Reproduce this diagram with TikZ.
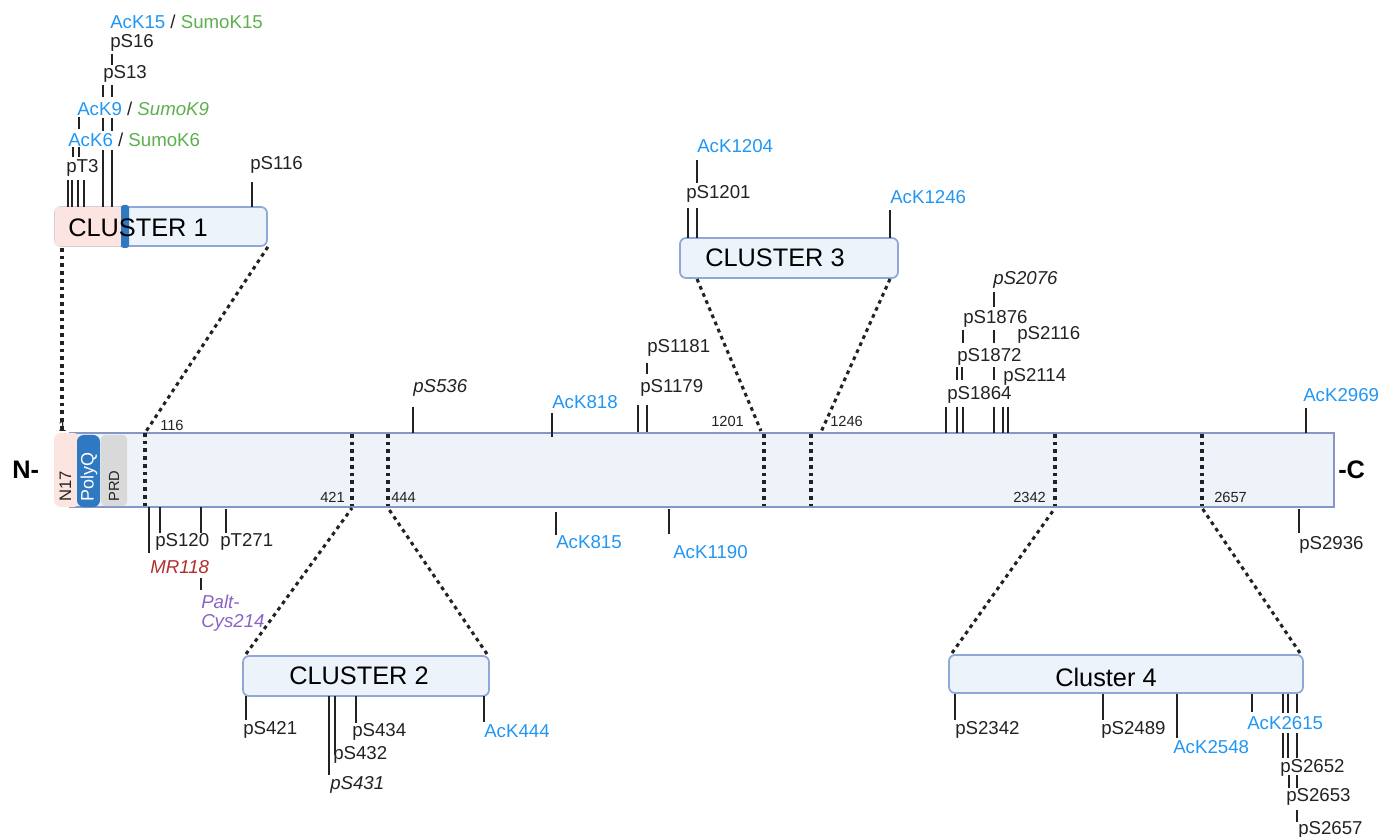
\documentclass[tikz,border=0pt]{standalone}
\usepackage{fontspec}
\setmainfont{Liberation Sans}
\definecolor{acblue}{HTML}{2196F3}
\definecolor{sumogreen}{HTML}{5DB04D}
\definecolor{mrred}{HTML}{B22F2F}
\definecolor{paltpurple}{HTML}{8A63C4}
\definecolor{boxfill}{HTML}{EDF3FB}
\definecolor{boxdraw}{HTML}{8FA8D8}
\definecolor{barfill}{HTML}{EEF3FA}
\definecolor{bardraw}{HTML}{8597C7}
\definecolor{nseventeen}{HTML}{FCE4E0}
\definecolor{polyqblue}{HTML}{2F78C2}
\definecolor{prdgray}{HTML}{D9D9D9}
\definecolor{txt}{HTML}{222222}
\newcommand{\acc}[1]{\textcolor{acblue}{#1}}
\newcommand{\sumo}[1]{\textcolor{sumogreen}{#1}}
\tikzset{
  tk/.style={line width=2.1pt, draw=txt},
  dline/.style={line width=2.3pt, dash pattern=on 2.8pt off 3pt, draw=txt},
  lbl/.style={anchor=west, inner sep=0pt, font=\fontsize{14}{16}\selectfont, text=txt},
  aclbl/.style={lbl, text=acblue},
  num/.style={anchor=west, inner sep=0pt, font=\fontsize{11}{12}\selectfont, text=txt},
  ttl/.style={anchor=west, inner sep=0pt, font=\fontsize{19}{21}\selectfont, text=black},
  cbox/.style={draw=boxdraw, fill=boxfill, rounded corners=4.5pt, line width=1.3pt, inner sep=0pt},
  ends/.style={anchor=west, inner sep=0pt, font=\fontsize{19}{21}\selectfont\bfseries, text=black},
  dom/.style={rotate=90, anchor=west, inner sep=0pt, font=\fontsize{11}{12}\selectfont},
}
\begin{document}
\begin{tikzpicture}[x=0.75pt,y=-0.75pt]
\useasboundingbox (0,0) rectangle (1381,837);

% ---------- main bar ----------
\node[draw=bardraw, fill=barfill, line width=1.3pt, inner sep=0pt,
      minimum width=948pt, minimum height=55.5pt] (bar) at (702,470) {};
\fill[nseventeen, rounded corners=5pt] (54,433) rectangle (80,507);
\fill[polyqblue, rounded corners=5pt] (77,435) rectangle (100,507);
\fill[prdgray, rounded corners=3pt] (101,435) rectangle (127,506);
\node[dom, text=txt, font=\fontsize{12.5}{13}\selectfont] (n17) at (65.5,502) {N17};
\node[dom, text=white, font=\fontsize{13.5}{14}\selectfont] (polyq) at (89,502) {PolyQ};
\node[dom, text=txt] (prd) at (114,502) {PRD};
\node[ends] (nterm) at (12,470) {N-};
\node[ends] (cterm) at (1338,470) {-C};

% ---------- Cluster 1 ----------
\node[cbox, minimum width=159pt, minimum height=29.25pt] (c1) at (161,226.5) {};
\fill[nseventeen, rounded corners=4.5pt] (125,206.3) -- (54.3,206.3) -- (54.3,246.7) -- (125,246.7) -- cycle;
\fill[polyqblue, rounded corners=2pt] (121,205) rectangle (129,248);
\node[ttl] (t1) at (68,228) {CLUSTER 1};

\node[lbl] (k15) at (110,22) {\acc{AcK15} / \sumo{SumoK15}};
\node[lbl] (s16) at (110,43) {pS16};
\node[lbl] (s13) at (103,74) {pS13};
\node[lbl] (k9) at (77,109) {\acc{AcK9} / \sumo{\itshape SumoK9}};
\node[lbl] (k6) at (68,140) {\acc{AcK6} / \sumo{SumoK6}};
\node[lbl] (t3) at (66,168) {pT3};
\node[lbl] (s116) at (250,165) {pS116};

\foreach \x in {112} \draw[tk] (\x,54) -- (\x,65);
\foreach \x in {103,112} \draw[tk] (\x,85) -- (\x,97);
\foreach \x in {103,112} \draw[tk] (\x,118) -- (\x,131);
\draw[tk] (79,117) -- (79,129);
\foreach \x in {73,79} \draw[tk] (\x,147) -- (\x,157);
\foreach \x in {103,112} \draw[tk] (\x,150) -- (\x,207);
\foreach \x in {68,72,78,84} \draw[tk] (\x,180) -- (\x,207);
\draw[tk] (252,182) -- (252,207);

\coordinate (p1) at (62,433);
\coordinate (p116) at (145,433);
\draw[dline] (62,248) -- (p1);
\draw[dline] (c1.south east) -- (p116);
\draw[dline] (p116) -- (145,506);
\node[num] (n1) at (58,426) {1};
\node[num] (n116) at (160,425) {116};

% ---------- Cluster 3 ----------
\node[cbox, minimum width=163.5pt, minimum height=30pt] (c3) at (789,258) {};
\node[ttl] (t3c) at (705,258) {CLUSTER 3};
\node[aclbl] (k1204) at (697,146) {AcK1204};
\node[lbl] (s1201) at (686,194) {pS1201};
\node[aclbl] (k1246) at (890,197) {AcK1246};
\draw[tk] (697,160) -- (697,183);
\foreach \x in {688,697} \draw[tk] (\x,208) -- (\x,238);
\draw[tk] (890,210) -- (890,238);
\coordinate (p1201) at (761,431);
\coordinate (p1246) at (821,432);
\draw[dline] (697,279) -- (p1201);
\draw[dline] (890,279) -- (p1246);
\draw[dline] (764,434) -- (764,506);
\draw[dline] (811,434) -- (811,506);
\node[num] (n1201) at (711,421) {1201};
\node[num] (n1246) at (830,421) {1246};

% ---------- Cluster 2 ----------
\node[cbox, minimum width=184.5pt, minimum height=30pt] (c2) at (366,676) {};
\node[ttl] (t2) at (289,676) {CLUSTER 2};
\coordinate (p421) at (352,508);
\coordinate (p444) at (388,508);
\draw[dline] (246,654) -- (p421);
\draw[dline] (487,654) -- (p444);
\draw[dline] (352,434) -- (352,506);
\draw[dline] (388,434) -- (388,506);
\node[num] (n421) at (320,497) {421};
\node[num] (n444) at (391,497) {444};
\draw[tk] (246,696) -- (246,720);
\draw[tk] (329,696) -- (329,775);
\draw[tk] (335,696) -- (335,755);
\draw[tk] (356,696) -- (356,723);
\draw[tk] (484,696) -- (484,722);
\node[lbl] (s421) at (243,730) {pS421};
\node[lbl] (s431) at (330,785) {\itshape pS431};
\node[lbl] (s432) at (333,755) {pS432};
\node[lbl] (s434) at (352,732) {pS434};
\node[aclbl] (k444) at (484,731) {AcK444};

% ---------- Cluster 4 ----------
\node[cbox, minimum width=265.5pt, minimum height=28.5pt] (c4) at (1126,674) {};
\node[ttl] (t4) at (1055,677) {Cluster 4};
\coordinate (p2342) at (1055,508);
\coordinate (p2657) at (1202,508);
\draw[dline] (952,653) -- (p2342);
\draw[dline] (1300,653) -- (p2657);
\draw[dline] (1055,434) -- (1055,506);
\draw[dline] (1202,434) -- (1202,506);
\node[num] (n2342) at (1013,497) {2342};
\node[num] (n2657) at (1214,497) {2657};
\draw[tk] (955,694) -- (955,720);
\draw[tk] (1103,694) -- (1103,720);
\draw[tk] (1177,694) -- (1177,738);
\draw[tk] (1252,694) -- (1252,712);
\foreach \x in {1283,1288,1297} {\draw[tk] (\x,694) -- (\x,713); \draw[tk] (\x,733) -- (\x,758);}
\foreach \x in {1289,1297} \draw[tk] (\x,775) -- (\x,788);
\draw[tk] (1297,810) -- (1297,822);
\node[lbl] (s2342) at (955,730) {pS2342};
\node[lbl] (s2489) at (1101,730) {pS2489};
\node[aclbl] (k2548) at (1173,747) {AcK2548};
\node[aclbl] (k2615) at (1247,723) {AcK2615};
\node[lbl] (s2652) at (1280,768) {pS2652};
\node[lbl] (s2653) at (1286,797) {pS2653};
\node[lbl] (s2657) at (1298,830) {pS2657};

% ---------- main bar, top sites ----------
\node[lbl] (s536) at (413,388) {\itshape pS536};
\draw[tk] (413,407) -- (413,433);
\node[aclbl] (k818) at (552,402) {AcK818};
\draw[tk] (552,413) -- (552,437);
\node[lbl] (s1179) at (640,388) {pS1179};
\foreach \x in {638,647} \draw[tk] (\x,405) -- (\x,432);
\node[lbl] (s1181) at (647,348) {pS1181};
\draw[tk] (647,363) -- (647,374);

\node[lbl] (s2076) at (993,280) {\itshape pS2076};
\draw[tk] (994,292) -- (994,307);
\node[lbl] (s1876) at (963,319) {pS1876};
\foreach \x in {963,994} \draw[tk] (\x,330) -- (\x,343);
\node[lbl] (s2116) at (1017,335) {pS2116};
\node[lbl] (s1872) at (957,357) {pS1872};
\foreach \x in {957,962,994} \draw[tk] (\x,367) -- (\x,380);
\node[lbl] (s2114) at (1003,377) {pS2114};
\node[lbl] (s1864) at (947,395) {pS1864};
\foreach \x in {946,957,963,994,1003,1008} \draw[tk] (\x,407) -- (\x,433);

\node[aclbl] (k2969) at (1303,395) {AcK2969};
\draw[tk] (1306,408) -- (1306,433);

% ---------- main bar, bottom sites ----------
\draw[tk] (149,507) -- (149,553);
\draw[tk] (160,507) -- (160,533);
\draw[tk] (201,507) -- (201,533);
\draw[tk] (226,509) -- (226,533);
\node[lbl] (s120) at (155,542) {pS120};
\node[lbl] (t271) at (220,542) {pT271};
\node[lbl, text=mrred] (mr118) at (150,567) {\itshape MR118};
\draw[tk] (201,578) -- (201,590);
\node[lbl, text=paltpurple] (palt) at (201,602) {\itshape Palt-};
\node[lbl, text=paltpurple] (cys) at (201,623) {\itshape Cys214};

\draw[tk] (556,512) -- (556,535);
\node[aclbl] (k815) at (556,542) {AcK815};
\draw[tk] (669,509) -- (669,534);
\node[aclbl] (k1190) at (673,552) {AcK1190};
\draw[tk] (1299,509) -- (1299,533);
\node[lbl] (s2936) at (1299,545) {pS2936};
\end{tikzpicture}
\end{document}
